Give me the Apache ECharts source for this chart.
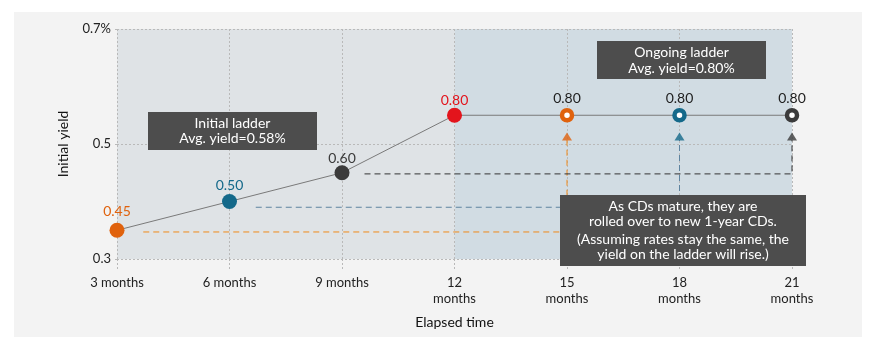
<!DOCTYPE html>
<html>
<head>
    <meta charset="utf-8">
    <title>CD ladder yield</title>
    <script src="https://cdn.jsdelivr.net/npm/echarts@6/dist/echarts.min.js"></script>
    <style>
        html, body {
            margin: 0;
            width: 875px;
            height: 350px;
            background: #ffffff;
        }

        #bg {
            position: absolute;
            left: 14px;
            top: 12px;
            width: 848px;
            height: 325px;
            background: #f3f3f3;
        }

        #main {
            position: absolute;
            left: 0;
            top: 0;
            width: 875px;
            height: 350px;
        }
    </style>
</head>
<body>
<div id="bg"></div>
<div id="main"></div>
<script type="text/javascript">
    var myChart = echarts.init(document.getElementById('main'));

    // x axis categories (elapsed time)
    const xLabels = ['3 months', '6 months', '9 months', '12\nmonths', '15\nmonths', '18\nmonths', '21\nmonths']
    // where each point sits on the yield axis, as drawn
    const yieldPos = [0.35, 0.40, 0.45, 0.55, 0.55, 0.55, 0.55]
    // the value printed above each point
    const yieldText = ['0.45', '0.50', '0.60', '0.80', '0.80', '0.80', '0.80']
    const hollow = [false, false, false, false, true, true, true]
    const pointColors = ['#e0620d', '#14698a', '#3b3b3b', '#e3141c', '#e0620d', '#14698a', '#3b3b3b']
    const labelColors = ['#e0620d', '#14698a', '#3b3b3b', '#e3141c', '#1e1e1e', '#1e1e1e', '#1e1e1e']
    const labelGap = [4, 2, 0, 0, 3, 3, 3]

    // roll-over guides: months where the dashed line starts / ends, and its yield level
    const rollStart = [3.7, 6.7, 9.6]
    const rollEnd = [15, 18, 21]
    const rollLevel = [0.347, 0.39, 0.448]
    const arrowLevel = 0.513
    const rollColors = ['#f08a1a', '#5f84a0', '#333333']
    const arrowColors = ['#e0620d', '#14698a', '#3b3b3b']

    const font = 'Lato'

    let points = yieldPos.map((v, i) => {
        let item = {
            value: v,
            symbol: 'circle',
            label: {
                color: labelColors[i],
                distance: labelGap[i]
            }
        };
        if (hollow[i]) {
            item.symbolSize = 10;
            item.itemStyle = {color: '#ffffff', borderColor: pointColors[i], borderWidth: 4.5};
        } else {
            item.symbolSize = 15;
            item.itemStyle = {color: pointColors[i], borderWidth: 0};
        }
        return item;
    });

    let guideSeries = rollStart.map((s, i) => ({
        type: 'line',
        xAxisIndex: 1,
        symbol: 'none',
        silent: true,
        z: 1.8,
        lineStyle: {color: rollColors[i], width: 1, type: [6, 4]},
        data: [[s, rollLevel[i]], [rollEnd[i], rollLevel[i]], [rollEnd[i], arrowLevel - 0.006]]
    }));

    let arrowSeries = {
        type: 'scatter',
        xAxisIndex: 1,
        symbol: 'triangle',
        symbolSize: [10, 8],
        silent: true,
        data: rollEnd.map((m, i) => ({value: [m, arrowLevel], itemStyle: {color: arrowColors[i]}}))
    };

    const gridLine = {color: '#b9b9b9', width: 1, type: [2, 2]};

    var option = {
        animation: false,
        textStyle: {fontFamily: font},
        grid: {left: 117, right: 83, top: 29, bottom: 91},
        xAxis: [{
            type: 'category',
            data: xLabels,
            boundaryGap: false,
            z: 1.5,
            axisLine: {show: false},
            axisTick: {show: true, length: 11, lineStyle: gridLine},
            splitLine: {show: true, lineStyle: gridLine},
            axisLabel: {color: '#222', fontSize: 13, lineHeight: 16, margin: 16},
            name: 'Elapsed time',
            nameLocation: 'middle',
            nameGap: 56,
            nameTextStyle: {color: '#111', fontSize: 14}
        }, {
            type: 'value',
            min: 3,
            max: 21,
            show: false
        }],
        yAxis: {
            type: 'value',
            min: 0.3,
            max: 0.7,
            interval: 0.2,
            z: 1.5,
            axisLine: {show: false},
            axisTick: {show: true, length: 4, lineStyle: gridLine},
            splitLine: {show: true, lineStyle: gridLine},
            axisLabel: {
                color: '#222',
                fontSize: 13,
                margin: 6,
                formatter: function (v) {
                    return v >= 0.69 ? v.toFixed(1) + '%' : v.toFixed(1);
                }
            },
            name: 'Initial yield',
            nameLocation: 'middle',
            nameGap: 47,
            nameTextStyle: {color: '#111', fontSize: 14}
        },
        series: [{
            type: 'line',
            data: points,
            z: 3,
            lineStyle: {color: '#7a7a7a', width: 1},
            label: {
                show: true,
                position: 'top',
                fontSize: 14,
                formatter: function (p) {
                    return yieldText[p.dataIndex];
                }
            },
            markArea: {
                silent: true,
                data: [
                    [{xAxis: xLabels[0], itemStyle: {color: '#dfe3e6'}}, {xAxis: xLabels[3]}],
                    [{xAxis: xLabels[3], itemStyle: {color: '#d1dce3'}}, {xAxis: xLabels[6]}]
                ]
            }
        }].concat(guideSeries, [arrowSeries]),
        graphic: [
            {type: 'rect', z: 10, shape: {x: 148, y: 112, width: 169, height: 38}, style: {fill: '#4d4d4d'}},
            {type: 'text', z: 11, style: {
                x: 232.5, y: 131, text: 'Initial ladder\nAvg. yield=0.58%', fill: '#fff',
                font: '14px Lato', align: 'center', verticalAlign: 'middle', lineHeight: 15
            }},
            {type: 'rect', z: 10, shape: {x: 597, y: 41, width: 169, height: 38}, style: {fill: '#4d4d4d'}},
            {type: 'text', z: 11, style: {
                x: 681.5, y: 60, text: 'Ongoing ladder\nAvg. yield=0.80%', fill: '#fff',
                font: '14px Lato', align: 'center', verticalAlign: 'middle', lineHeight: 16
            }},
            {type: 'rect', z: 10, shape: {x: 560, y: 195, width: 246, height: 71}, style: {fill: '#4d4d4d'}},
            {type: 'text', z: 11, style: {
                x: 683, y: 214, text: 'As CDs mature, they are\nrolled over to new 1-year CDs.', fill: '#fff',
                font: '14px Lato', align: 'center', verticalAlign: 'middle', lineHeight: 14.5
            }},
            {type: 'text', z: 11, style: {
                x: 683, y: 247, text: '(Assuming rates stay the same, the\nyield on the ladder will rise.)', fill: '#fff',
                font: '14px Lato', align: 'center', verticalAlign: 'middle', lineHeight: 14.5
            }}
        ]
    };

    myChart.setOption(option);
</script>
</body>
</html>
